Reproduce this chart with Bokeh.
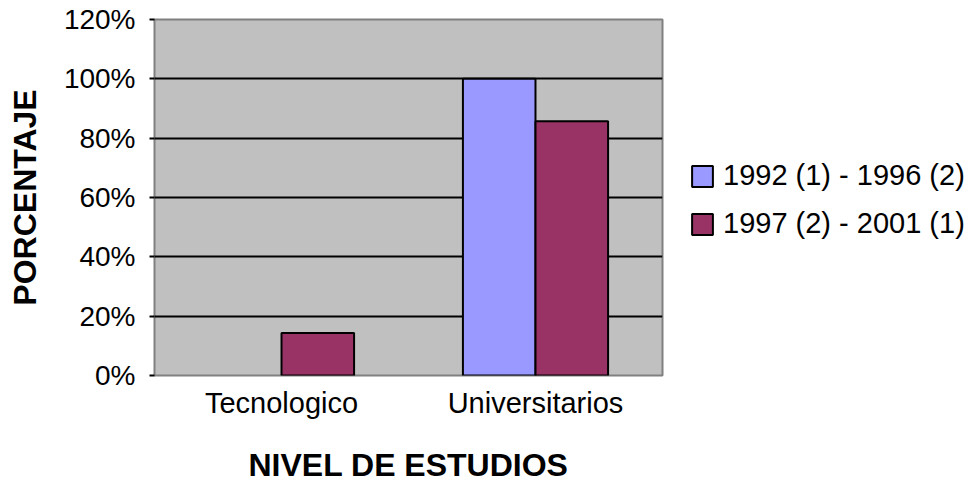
from bokeh.plotting import figure
from bokeh.models import ColumnDataSource, FixedTicker, NumeralTickFormatter, Legend, LegendItem, Range1d, FactorRange, CDSView, BooleanFilter
from bokeh.transform import dodge
from bokeh.embed import file_html
from bokeh.resources import INLINE

categories = ["Tecnologico", "Universitarios"]
series_names = ["1992 (1) - 1996 (2)", "1997 (2) - 2001 (1)"]
s1992 = [0.0, 1.0]
s1997 = [0.143, 0.857]
y_ticks = [0, 0.2, 0.4, 0.6, 0.8, 1.0, 1.2]

FONT = "Liberation Sans"

src = ColumnDataSource(dict(cat=categories, a=s1992, b=s1997))

p = figure(frame_width=508, frame_height=356, x_range=FactorRange(*categories, range_padding=0),
           y_range=Range1d(0, 1.2), output_backend="svg", toolbar_location=None,
           min_border_left=154, min_border_right=307, min_border_top=19, min_border_bottom=110)

p.background_fill_color = "#C0C0C0"
p.border_fill_color = "white"
p.outline_line_color = "#808080"
p.outline_line_width = 2

r1 = p.vbar(x=dodge("cat", -0.1429, range=p.x_range), top="a", width=0.2857, source=src,
            view=CDSView(filter=BooleanFilter([v > 0 for v in s1992])),
            fill_color="#9999FF", line_color="black", line_width=2)
r2 = p.vbar(x=dodge("cat", 0.1429, range=p.x_range), top="b", width=0.2857, source=src,
            fill_color="#993366", line_color="black", line_width=2)

p.xgrid.grid_line_color = None
p.ygrid.ticker = FixedTicker(ticks=[0.2, 0.4, 0.6, 0.8, 1.0])
p.ygrid.grid_line_color = "black"
p.ygrid.grid_line_width = 2
p.ygrid.level = "underlay"

p.yaxis.ticker = FixedTicker(ticks=y_ticks)
p.yaxis.formatter = NumeralTickFormatter(format="0%")
p.yaxis.axis_line_color = None
p.yaxis.major_tick_out = 5
p.yaxis.major_tick_in = 0
p.yaxis.major_tick_line_color = "black"
p.yaxis.major_tick_line_width = 2
p.yaxis.minor_tick_line_color = None
p.yaxis.major_label_standoff = 14
p.yaxis.major_label_text_font = FONT
p.yaxis.major_label_text_font_size = "28px"
p.yaxis.major_label_text_color = "black"
p.yaxis.axis_label = "PORCENTAJE"
p.yaxis.axis_label_text_font = FONT
p.yaxis.axis_label_text_font_size = "32px"
p.yaxis.axis_label_text_font_style = "bold"
p.yaxis.axis_label_text_color = "black"
p.yaxis.axis_label_standoff = 18

p.xaxis.axis_line_color = None
p.xaxis.major_tick_line_color = None
p.xaxis.major_tick_out = 0
p.xaxis.major_label_standoff = 11
p.xaxis.major_label_text_font = FONT
p.xaxis.major_label_text_font_size = "29px"
p.xaxis.major_label_text_color = "black"
p.xaxis.axis_label = "NIVEL DE ESTUDIOS"
p.xaxis.axis_label_text_font = FONT
p.xaxis.axis_label_text_font_size = "32px"
p.xaxis.axis_label_text_font_style = "bold"
p.xaxis.axis_label_text_color = "black"
p.xaxis.axis_label_standoff = 25

legend = Legend(items=[LegendItem(label=series_names[0], renderers=[r1]),
                       LegendItem(label=series_names[1], renderers=[r2])],
                location=(27, 135), orientation="vertical",
                glyph_width=26, glyph_height=26, label_height=21, label_standoff=8,
                spacing=15, padding=0, margin=0, border_line_color=None,
                background_fill_alpha=0, label_text_font=FONT,
                label_text_font_size="29px", label_text_color="black")
p.add_layout(legend, "right")

open("out.html", "w").write(file_html(p, INLINE))
